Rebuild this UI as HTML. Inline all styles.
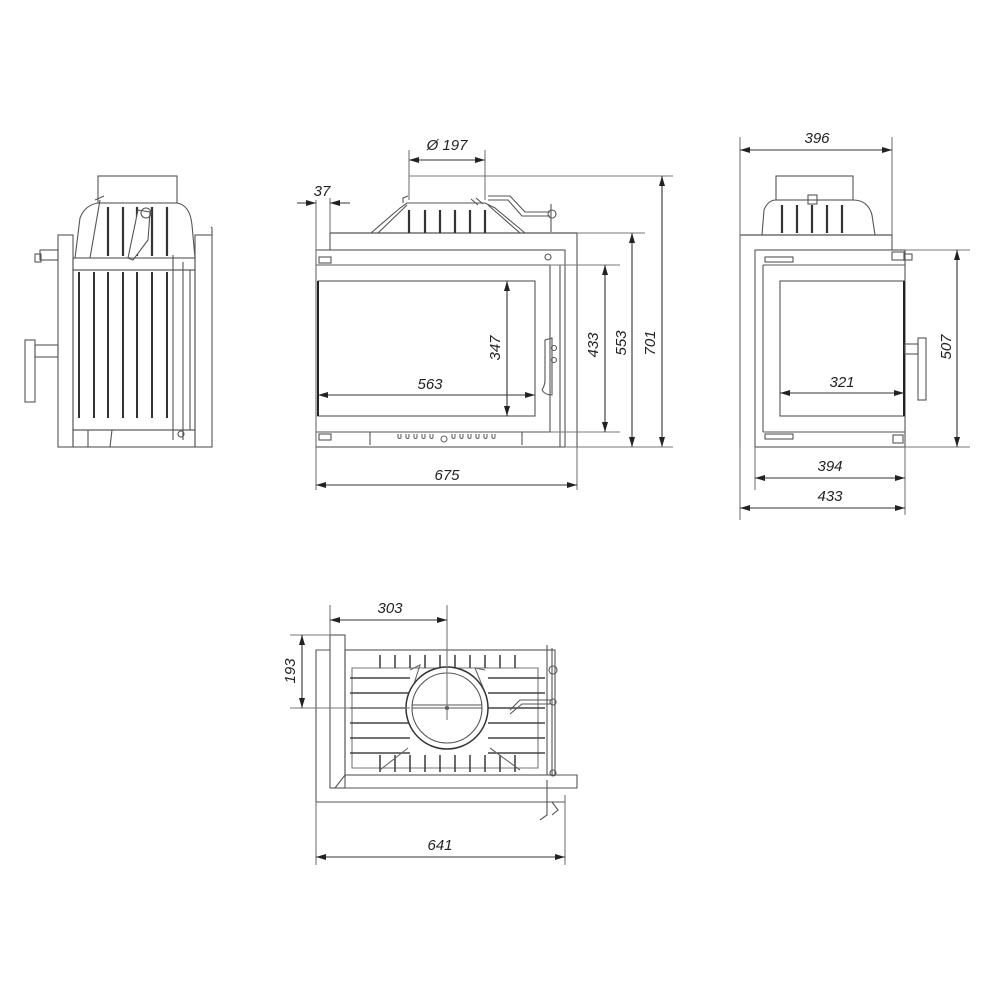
<!DOCTYPE html>
<html><head><style>html,body{margin:0;padding:0;background:#fff}svg{display:block}
text{font-family:"Liberation Sans",sans-serif;font-style:italic;font-size:15px;fill:#222}</style></head>
<body>
<svg width="1000" height="1000" viewBox="0 0 1000 1000" xmlns="http://www.w3.org/2000/svg">
<defs>
<marker id="a" viewBox="0 0 10 6" refX="10" refY="3" markerWidth="10" markerHeight="6" orient="auto-start-reverse" markerUnits="userSpaceOnUse"><path d="M0,0 L10,3 L0,6 z" fill="#222"/></marker>
</defs>
<g fill="none" stroke="#555" stroke-width="1.1">

<!-- ===== LEFT SIDE VIEW ===== -->
<rect x="98" y="176" width="79" height="27"/>
<path d="M75,258 L80,218 Q85,205 98,203 L177,203 Q190,205 192,225 L195,258"/>
<path d="M90,258 L100,200 M95,200 L104,196"/>
<g stroke="#333" stroke-width="2.2">
<line x1="108" y1="207" x2="108" y2="256"/><line x1="123" y1="207" x2="123" y2="256"/><line x1="137" y1="207" x2="137" y2="256"/><line x1="152" y1="207" x2="152" y2="256"/><line x1="167" y1="207" x2="167" y2="256"/>
</g>
<path d="M138,210 L150,212 L148,240 L133,260 L128,258 Z" fill="#fff"/>
<circle cx="146" cy="213" r="5"/>
<rect x="58" y="235" width="15" height="212"/>
<rect x="195" y="235" width="17" height="212"/>
<path d="M212,235 L212,228 L211,227"/>
<rect x="73" y="258" width="122" height="12"/>
<rect x="73" y="270" width="122" height="160"/>
<rect x="73" y="430" width="122" height="17"/>
<g stroke="#333" stroke-width="2">
<line x1="79" y1="272" x2="79" y2="418"/><line x1="94" y1="272" x2="94" y2="418"/><line x1="108" y1="272" x2="108" y2="418"/><line x1="123" y1="272" x2="123" y2="418"/><line x1="137" y1="272" x2="137" y2="418"/><line x1="152" y1="272" x2="152" y2="418"/><line x1="167" y1="272" x2="167" y2="418"/>
</g>
<line x1="173" y1="255" x2="173" y2="440"/><line x1="183" y1="262" x2="183" y2="440"/><line x1="190" y1="270" x2="190" y2="430"/>
<rect x="40" y="250" width="18" height="10"/><rect x="35" y="254" width="6" height="8"/>
<rect x="25" y="340" width="10" height="62"/><rect x="35" y="345" width="23" height="12"/>
<path d="M88,430 L88,447 L110,447 L112,430"/>
<circle cx="181" cy="434" r="3"/>

<!-- ===== FRONT VIEW ===== -->
<line x1="330" y1="233" x2="577" y2="233" stroke-width="1.3"/>
<line x1="330" y1="233" x2="330" y2="250"/>
<line x1="577" y1="233" x2="577" y2="447"/>
<rect x="316" y="250" width="249" height="197"/>
<line x1="316" y1="265" x2="550" y2="265"/>
<line x1="550" y1="265" x2="550" y2="432"/>
<line x1="316" y1="432" x2="550" y2="432"/>
<line x1="560" y1="265" x2="560" y2="447"/>
<rect x="318" y="281" width="217" height="135"/>
<line x1="318" y1="281" x2="318" y2="416" stroke="#222" stroke-width="2"/>
<circle cx="548" cy="257" r="3"/>
<rect x="319" y="257" width="12" height="6"/><rect x="319" y="434" width="12" height="6"/>
<path d="M545,340 L552,338 L552,395 Q545,395 542,390 Q545,385 545,380 Z"/>
<circle cx="554" cy="348" r="2.5"/><circle cx="554" cy="360" r="2.5"/>
<line x1="370" y1="432" x2="370" y2="445"/><line x1="522" y1="432" x2="522" y2="445"/>
<g stroke="#666">
<path d="M398,434 v3 a1.5,1.5 0 0 0 3,0 v-3 M406,434 v3 a1.5,1.5 0 0 0 3,0 v-3 M414,434 v3 a1.5,1.5 0 0 0 3,0 v-3 M422,434 v3 a1.5,1.5 0 0 0 3,0 v-3 M430,434 v3 a1.5,1.5 0 0 0 3,0 v-3 M452,434 v3 a1.5,1.5 0 0 0 3,0 v-3 M460,434 v3 a1.5,1.5 0 0 0 3,0 v-3 M468,434 v3 a1.5,1.5 0 0 0 3,0 v-3 M476,434 v3 a1.5,1.5 0 0 0 3,0 v-3 M484,434 v3 a1.5,1.5 0 0 0 3,0 v-3 M492,434 v3 a1.5,1.5 0 0 0 3,0 v-3"/>
<circle cx="444" cy="439" r="3"/>
</g>
<!-- collector -->
<path d="M371,233 L400,208 L407,203 L485,203 L495,208 L525,233"/>
<path d="M378,233 L407,205 M520,233 L488,205"/>
<path d="M403,203 L403,198 L408,196"/>
<path d="M488,196 L510,196 L525,212 L550,212 M488,200 L508,200 L522,216 L550,216"/>
<line x1="551" y1="204" x2="551" y2="232"/><ellipse cx="552" cy="214" rx="4" ry="4"/>
<path d="M471,199 L478,205 M476,198 L483,204"/>
<g stroke="#333" stroke-width="2.2">
<line x1="409" y1="210" x2="409" y2="233"/><line x1="425" y1="210" x2="425" y2="233"/><line x1="440" y1="210" x2="440" y2="233"/><line x1="455" y1="210" x2="455" y2="233"/><line x1="470" y1="210" x2="470" y2="233"/><line x1="485" y1="210" x2="485" y2="233"/>
</g>

<!-- ===== RIGHT SIDE VIEW ===== -->
<rect x="776" y="176" width="77" height="24"/>
<path d="M762,235 L764,210 Q768,200 776,200 L853,200 Q868,200 872,215 L875,235"/>
<g stroke="#333" stroke-width="2.2">
<line x1="782" y1="205" x2="782" y2="233"/><line x1="797" y1="205" x2="797" y2="233"/><line x1="812" y1="205" x2="812" y2="233"/><line x1="827" y1="205" x2="827" y2="233"/><line x1="842" y1="205" x2="842" y2="233"/>
</g>
<rect x="808" y="195" width="9" height="9"/>
<line x1="740" y1="235" x2="892" y2="235" stroke-width="1.3"/>
<line x1="740" y1="235" x2="740" y2="447"/>
<line x1="892" y1="235" x2="892" y2="250"/>
<rect x="755" y="250" width="150" height="197"/>
<line x1="763" y1="265" x2="905" y2="265"/>
<line x1="763" y1="265" x2="763" y2="432"/>
<line x1="763" y1="432" x2="905" y2="432"/>
<rect x="780" y="281" width="124" height="135"/>
<line x1="904" y1="281" x2="904" y2="416" stroke="#222" stroke-width="2"/>
<rect x="765" y="257" width="28" height="5"/><rect x="765" y="434" width="28" height="5"/>
<rect x="892" y="252" width="12" height="8"/><rect x="904" y="254" width="8" height="6"/>
<rect x="893" y="435" width="10" height="8"/>
<rect x="918" y="338" width="8" height="62"/><rect x="905" y="344" width="13" height="10"/>

<!-- ===== TOP VIEW ===== -->
<path d="M316,802 L316,650 L330,650"/>
<line x1="316" y1="802" x2="565" y2="802"/>
<rect x="330" y="635" width="15" height="153"/>
<path d="M335,788 L345,775 L577,775 L577,788 Z"/>
<rect x="345" y="650" width="210" height="125"/>
<path d="M352,668 L352,768 L538,768 L538,668 Z" stroke="#777"/>
<line x1="547" y1="645" x2="547" y2="775"/><line x1="552" y1="648" x2="552" y2="775"/>
<g stroke="#444" stroke-width="1.6">
<line x1="350" y1="678" x2="410" y2="678"/><line x1="350" y1="693" x2="410" y2="693"/><line x1="350" y1="708" x2="410" y2="708"/><line x1="350" y1="723" x2="410" y2="723"/><line x1="350" y1="738" x2="410" y2="738"/><line x1="350" y1="753" x2="410" y2="753"/>
<line x1="488" y1="678" x2="545" y2="678"/><line x1="488" y1="693" x2="545" y2="693"/><line x1="488" y1="708" x2="545" y2="708"/><line x1="488" y1="723" x2="545" y2="723"/><line x1="488" y1="738" x2="545" y2="738"/><line x1="488" y1="753" x2="545" y2="753"/>
<line x1="380" y1="655" x2="380" y2="668"/><line x1="395" y1="655" x2="395" y2="668"/><line x1="410" y1="655" x2="410" y2="668"/><line x1="425" y1="655" x2="425" y2="668"/><line x1="440" y1="655" x2="440" y2="668"/><line x1="455" y1="655" x2="455" y2="668"/><line x1="470" y1="655" x2="470" y2="668"/><line x1="485" y1="655" x2="485" y2="668"/><line x1="500" y1="655" x2="500" y2="668"/><line x1="515" y1="655" x2="515" y2="668"/>
<line x1="380" y1="755" x2="380" y2="772"/><line x1="395" y1="755" x2="395" y2="772"/><line x1="410" y1="755" x2="410" y2="772"/><line x1="425" y1="755" x2="425" y2="772"/><line x1="440" y1="755" x2="440" y2="772"/><line x1="455" y1="755" x2="455" y2="772"/><line x1="470" y1="755" x2="470" y2="772"/><line x1="485" y1="755" x2="485" y2="772"/><line x1="500" y1="755" x2="500" y2="772"/><line x1="515" y1="755" x2="515" y2="772"/>
</g>
<path d="M410,670 L420,665 L412,690 M485,670 L475,668 L484,690 M408,748 L380,770 M490,748 L520,770" stroke="#666"/>
<circle cx="447" cy="708" r="41" stroke="#333" stroke-width="1.5" fill="#fff"/>
<circle cx="447" cy="708" r="35"/>
<line x1="412" y1="708" x2="482" y2="708"/><line x1="412" y1="705" x2="482" y2="705"/>
<circle cx="447" cy="708" r="1.5" fill="#333"/>
<path d="M510,710 L520,700 L550,700 M510,714 L522,704 L550,704"/>
<circle cx="553" cy="670" r="4"/><circle cx="553" cy="702" r="3"/><circle cx="553" cy="773" r="3"/>
<path d="M547,780 L547,815 L540,820 M552,802 L558,810 L552,815"/>

<!-- ===== DIMENSIONS ===== -->
<g stroke="#333">
<line x1="316" y1="200" x2="316" y2="490" stroke="#777"/>
<line x1="330" y1="198" x2="330" y2="233" stroke="#777"/>
<line x1="297" y1="203" x2="316" y2="203" marker-end="url(#a)"/>
<line x1="350" y1="203" x2="330" y2="203" marker-end="url(#a)"/>
<line x1="409" y1="150" x2="409" y2="200" stroke="#777"/>
<line x1="485" y1="150" x2="485" y2="200" stroke="#777"/>
<line x1="409" y1="160" x2="485" y2="160" marker-start="url(#a)" marker-end="url(#a)"/>
<line x1="409" y1="176" x2="673" y2="176" stroke="#777"/>
<line x1="662" y1="176" x2="662" y2="447" marker-start="url(#a)" marker-end="url(#a)"/>
<line x1="577" y1="233" x2="645" y2="233" stroke="#777"/>
<line x1="565" y1="447" x2="673" y2="447" stroke="#777"/>
<line x1="632" y1="233" x2="632" y2="447" marker-start="url(#a)" marker-end="url(#a)"/>
<line x1="550" y1="265" x2="620" y2="265" stroke="#777"/>
<line x1="550" y1="432" x2="620" y2="432" stroke="#777"/>
<line x1="605" y1="265" x2="605" y2="432" marker-start="url(#a)" marker-end="url(#a)"/>
<line x1="507" y1="281" x2="507" y2="416" marker-start="url(#a)" marker-end="url(#a)"/>
<line x1="318" y1="395" x2="535" y2="395" marker-start="url(#a)" marker-end="url(#a)"/>
<line x1="577" y1="447" x2="577" y2="490" stroke="#777"/>
<line x1="316" y1="485" x2="577" y2="485" marker-start="url(#a)" marker-end="url(#a)"/>
<line x1="740" y1="137" x2="740" y2="520" stroke="#777"/>
<line x1="892" y1="137" x2="892" y2="235" stroke="#777"/>
<line x1="740" y1="150" x2="892" y2="150" marker-start="url(#a)" marker-end="url(#a)"/>
<line x1="905" y1="250" x2="970" y2="250" stroke="#777"/>
<line x1="905" y1="447" x2="970" y2="447" stroke="#777"/>
<line x1="957" y1="250" x2="957" y2="447" marker-start="url(#a)" marker-end="url(#a)"/>
<line x1="780" y1="393" x2="904" y2="393" marker-start="url(#a)" marker-end="url(#a)"/>
<line x1="755" y1="447" x2="755" y2="490" stroke="#777"/>
<line x1="905" y1="447" x2="905" y2="515" stroke="#777"/>
<line x1="755" y1="478" x2="905" y2="478" marker-start="url(#a)" marker-end="url(#a)"/>
<line x1="740" y1="508" x2="905" y2="508" marker-start="url(#a)" marker-end="url(#a)"/>
<line x1="330" y1="605" x2="330" y2="635" stroke="#777"/>
<line x1="447" y1="605" x2="447" y2="720" stroke="#777"/>
<line x1="330" y1="620" x2="447" y2="620" marker-start="url(#a)" marker-end="url(#a)"/>
<line x1="290" y1="635" x2="330" y2="635" stroke="#777"/>
<line x1="290" y1="708" x2="410" y2="708" stroke="#777"/>
<line x1="302" y1="635" x2="302" y2="708" marker-start="url(#a)" marker-end="url(#a)"/>
<line x1="316" y1="802" x2="316" y2="865" stroke="#777"/>
<line x1="565" y1="795" x2="565" y2="865" stroke="#777"/>
<line x1="316" y1="857" x2="565" y2="857" marker-start="url(#a)" marker-end="url(#a)"/>
</g>
</g>

<text x="322" y="196" text-anchor="middle">37</text>
<text x="447" y="150" text-anchor="middle">Ø 197</text>
<text x="430" y="389" text-anchor="middle">563</text>
<text x="447" y="480" text-anchor="middle">675</text>
<text transform="translate(500,348) rotate(-90)" text-anchor="middle">347</text>
<text transform="translate(598,345) rotate(-90)" text-anchor="middle">433</text>
<text transform="translate(626,343) rotate(-90)" text-anchor="middle">553</text>
<text transform="translate(655,343) rotate(-90)" text-anchor="middle">701</text>
<text x="817" y="143" text-anchor="middle">396</text>
<text x="842" y="387" text-anchor="middle">321</text>
<text transform="translate(951,347) rotate(-90)" text-anchor="middle">507</text>
<text x="830" y="471" text-anchor="middle">394</text>
<text x="830" y="501" text-anchor="middle">433</text>
<text x="390" y="613" text-anchor="middle">303</text>
<text transform="translate(295,671) rotate(-90)" text-anchor="middle">193</text>
<text x="440" y="850" text-anchor="middle">641</text>
</svg>
</body></html>
